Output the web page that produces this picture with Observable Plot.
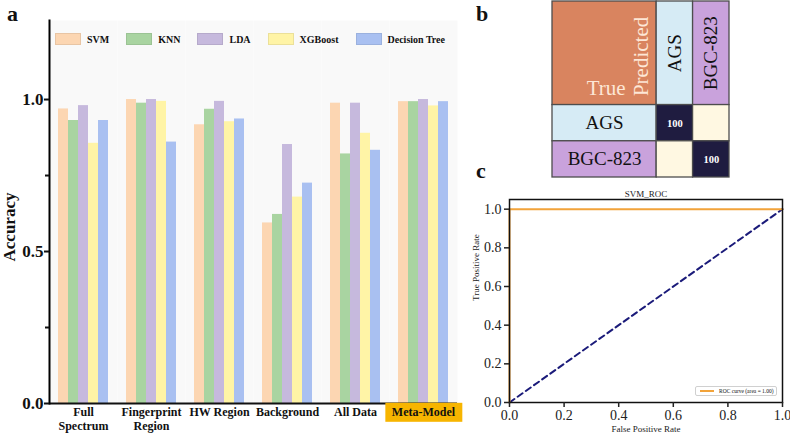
<!DOCTYPE html>
<html><head><meta charset="utf-8">
<script src="https://cdn.jsdelivr.net/npm/d3@7"></script>
<script src="https://cdn.jsdelivr.net/npm/@observablehq/plot@0.6"></script>
<style>
body{margin:0;background:#fff;}
#root{position:relative;width:790px;height:434px;overflow:hidden;font-family:"Liberation Serif","Times New Roman",serif;color:#111;}
.panel{position:absolute;}
.plabel{position:absolute;font-weight:bold;font-size:22px;line-height:1;}
#legendA{position:absolute;left:55px;top:33px;display:flex;align-items:center;font-weight:bold;font-size:10px;}
#legendA .item{display:flex;align-items:center;margin-right:17px;}
#legendA .sw{width:26px;height:12px;margin-right:6px;box-sizing:border-box;border:0.5px solid rgba(0,0,0,0.08);}
#accLabel{position:absolute;left:10px;top:227px;transform:translate(-50%,-50%) rotate(-90deg);font-weight:bold;font-size:17px;white-space:nowrap;}
#rocLegend{position:absolute;left:695px;top:386px;width:82px;height:10px;border:1px solid #d0d0d0;border-radius:2px;background:#fff;display:flex;align-items:center;font-size:5.5px;white-space:nowrap;box-sizing:border-box;}
#rocLegend .ln{width:14px;height:2px;background:#f2a33a;margin:0 5px 0 4px;}
</style></head><body><div id="root"></div>
<script>
// ---------- Panel a data ----------
const groups = ["Full Spectrum", "Fingerprint Region", "HW Region", "Background", "All Data", "Meta-Model"];
const groupLabels = ["Full\nSpectrum", "Fingerprint\nRegion", "HW Region", "Background", "All Data", "Meta-Model"];
const models = ["SVM", "KNN", "LDA", "XGBoost", "Decision Tree"];
const modelColors = ["#fcd6b2", "#a9d4a1", "#c6b9dd", "#fff4a6", "#a9c0f1"];
const accSVM = [0.969, 1.000, 0.917, 0.594, 0.988, 0.993];
const accKNN = [0.931, 0.988, 0.968, 0.622, 0.821, 0.993];
const accLDA = [0.980, 1.000, 0.994, 0.852, 0.988, 1.000];
const accXGB = [0.856, 0.994, 0.927, 0.679, 0.889, 0.979];
const accDT  = [0.931, 0.860, 0.936, 0.725, 0.833, 0.993];
const yMajorTicks = [0, 0.5, 1.0];
const yMinorTicks = [0.25, 0.75];
const highlightGroup = "Meta-Model";

// ---------- Panel b data ----------
const classes = ["AGS", "BGC-823"];
const classColors = ["#d6ebf5", "#c9a2dc"];
const confusion = [[100, 0], [0, 100]];

// ---------- Panel c data ----------
const rocFPR = [0, 0, 1];
const rocTPR = [0, 1, 1];
const chanceFPR = [0, 1];
const chanceTPR = [0, 1];
const rocAUC = 1.00;
const rocTicks = [0, 0.2, 0.4, 0.6, 0.8, 1.0];

const SERIF = '"Liberation Serif","Times New Roman",serif';
const SVGNS = "http://www.w3.org/2000/svg";
const root = document.getElementById("root");
function place(el, left, top) { el.classList.add("panel"); el.style.left = left + "px"; el.style.top = top + "px"; root.appendChild(el); return el; }

// ================= Panel a =================
const accuracy = [accSVM, accKNN, accLDA, accXGB, accDT];
const barData = groups.flatMap((g, gi) => models.map((m, mi) => ({group: g, model: m, value: accuracy[mi][gi]})));
const chartA = Plot.plot({
  width: 470, height: 434,
  marginLeft: 47, marginRight: 11, marginTop: 20, marginBottom: 31,
  style: {fontFamily: SERIF, background: "transparent", overflow: "visible", color: "#111"},
  fx: {domain: groups, padding: 0, axis: null},
  x: {domain: models, paddingInner: 0, paddingOuter: 0.64, axis: null},
  y: {domain: [0, 1.26], axis: null},
  color: {domain: models, range: modelColors},
  marks: [
    Plot.frame({fill: "#f9f9f9", stroke: "none"}),
    Plot.barY(barData, {fx: "group", x: "model", y: "value", fill: "model"}),
    Plot.ruleY([0], {stroke: "#111", strokeWidth: 2}),
    Plot.frame({anchor: "left", facetAnchor: "left", stroke: "black", strokeWidth: 2}),
    Plot.axisY(yMajorTicks, {tickFormat: d3.format(".1f"), tickSize: 5, tickPadding: 1, fontSize: 17, fontWeight: "bold", strokeWidth: 2, label: null}),
    Plot.axisY(yMinorTicks, {tickFormat: () => "", tickSize: 4, strokeWidth: 2, label: null}),
    Plot.axisFx({anchor: "bottom", tickSize: 0, tickPadding: 3, tickFormat: d => groupLabels[groups.indexOf(d)], fontSize: 12, fontWeight: "bold", label: null, lineHeight: 1.15})
  ]
});
place(chartA, 0, 0);

// highlight box behind the Meta-Model label
chartA.querySelectorAll("text").forEach(t => {
  if (t.textContent === highlightGroup) {
    const bb = t.getBBox();
    const r = document.createElementNS(SVGNS, "rect");
    r.setAttribute("x", bb.x - 6.5); r.setAttribute("y", bb.y - 2.5);
    r.setAttribute("width", bb.width + 13); r.setAttribute("height", bb.height + 5);
    r.setAttribute("fill", "#f7b500");
    if (t.getAttribute("transform")) r.setAttribute("transform", t.getAttribute("transform"));
    t.parentNode.insertBefore(r, t);
  }
});

// legend a
const legA = document.createElement("div"); legA.id = "legendA";
models.forEach((m, i) => {
  const it = document.createElement("div"); it.className = "item";
  const sw = document.createElement("div"); sw.className = "sw"; sw.style.background = modelColors[i];
  const tx = document.createElement("span"); tx.textContent = m;
  it.appendChild(sw); it.appendChild(tx); legA.appendChild(it);
});
root.appendChild(legA);
const acc = document.createElement("div"); acc.id = "accLabel"; acc.textContent = "Accuracy"; root.appendChild(acc);

// ================= Panel b =================
const hdr = 2.86; // header band span (in cell units)
const n = classes.length;
const cmCells = [];
classes.forEach((t, i) => classes.forEach((p, j) => cmCells.push({i, j, truth: t, pred: p, value: confusion[i][j]})));
const border = {stroke: "#4d4d4d", strokeWidth: 1.3};
const chartB = Plot.plot({
  width: 200, height: 185,
  marginLeft: 12, marginRight: 11, marginTop: 1, marginBottom: 8,
  style: {fontFamily: SERIF, background: "transparent", overflow: "visible"},
  x: {domain: [0, hdr + n], axis: null},
  y: {domain: [0, hdr + n], reverse: true, axis: null},
  color: {type: "linear", domain: [0, 100], range: ["#fff8e2", "#1f1c40"]},
  marks: [
    Plot.rect([{}], {x1: 0, x2: hdr, y1: 0, y2: hdr, fill: "#d9845f", ...border}),
    ...classes.map((c, j) => Plot.rect([c], {x1: hdr + j, x2: hdr + j + 1, y1: 0, y2: hdr, fill: classColors[j], ...border})),
    ...classes.map((c, i) => Plot.rect([c], {x1: 0, x2: hdr, y1: hdr + i, y2: hdr + i + 1, fill: classColors[i], ...border})),
    Plot.rect(cmCells, {x1: d => hdr + d.j, x2: d => hdr + d.j + 1, y1: d => hdr + d.i, y2: d => hdr + d.i + 1, fill: "value", ...border}),
    Plot.text(["True"], {text: d => d, x: hdr, y: hdr, dx: -31, dy: -10, textAnchor: "end", lineAnchor: "bottom", fontSize: 21, fill: "#fde7d6"}),
    Plot.text(["Predicted"], {text: d => d, x: hdr, y: hdr, dx: -9, dy: -9, rotate: -90, textAnchor: "start", lineAnchor: "bottom", fontSize: 21, fill: "#fde7d6"}),
    Plot.text(classes, {text: d => d, x: (d, j) => hdr + j + 0.5, y: hdr / 2, rotate: -90, textAnchor: "middle", lineAnchor: "middle", fontSize: 19, fill: "#111"}),
    Plot.text(classes, {text: d => d, x: hdr / 2, y: (d, i) => hdr + i + 0.5, textAnchor: "middle", lineAnchor: "middle", fontSize: 19, fill: "#111"}),
    Plot.text(cmCells.filter(d => d.value > 0), {text: d => String(d.value), x: d => hdr + d.j + 0.5, y: d => hdr + d.i + 0.5, fontSize: 10.5, fontWeight: "bold", fill: "#fff"})
  ]
});
place(chartB, 540, 0);

// ================= Panel c =================
const rocData = rocFPR.map((x, k) => ({x, y: rocTPR[k]}));
const chanceData = chanceFPR.map((x, k) => ({x, y: chanceTPR[k]}));
const chartC = Plot.plot({
  width: 320, height: 254,
  marginLeft: 39, marginRight: 8, marginTop: 19, marginBottom: 32,
  style: {fontFamily: SERIF, background: "transparent", overflow: "visible", color: "#222"},
  x: {domain: [0, 1], axis: null},
  y: {domain: [0, 1.05], axis: null},
  marks: [
    Plot.line(chanceData, {x: "x", y: "y", stroke: "#1b1b7a", strokeWidth: 2, strokeDasharray: "6,4"}),
    Plot.line(rocData, {x: "x", y: "y", stroke: "#f2a33a", strokeWidth: 2}),
    Plot.frame({stroke: "#111", strokeWidth: 1.5}),
    Plot.axisX(rocTicks, {tickFormat: d3.format(".1f"), tickSize: 5, tickPadding: 3, fontSize: 14, strokeWidth: 1.5, label: null}),
    Plot.axisY(rocTicks, {tickFormat: d3.format(".1f"), tickSize: 5, tickPadding: 3, fontSize: 14, strokeWidth: 1.5, label: null}),
    Plot.text(["SVM_ROC"], {text: d => d, frameAnchor: "top", dy: -3, lineAnchor: "bottom", fontSize: 9}),
    Plot.text(["False Positive Rate"], {text: d => d, frameAnchor: "bottom", dy: 27, lineAnchor: "middle", fontSize: 9}),
    Plot.text(["True Positive Rate"], {text: d => d, frameAnchor: "left", dx: -33, rotate: -90, lineAnchor: "middle", fontSize: 9})
  ]
});
place(chartC, 470, 180);
const rl = document.createElement("div"); rl.id = "rocLegend";
rl.innerHTML = '<div class="ln"></div><span></span>';
rl.querySelector("span").textContent = `ROC curve (area = ${rocAUC.toFixed(2)})`;
root.appendChild(rl);

// panel letters
[["a", 7, 3], ["b", 476, 3], ["c", 476, 160]].forEach(([t, l, tp]) => {
  const d = document.createElement("div"); d.className = "plabel"; d.textContent = t;
  d.style.left = l + "px"; d.style.top = tp + "px"; root.appendChild(d);
});
</script></body></html>
